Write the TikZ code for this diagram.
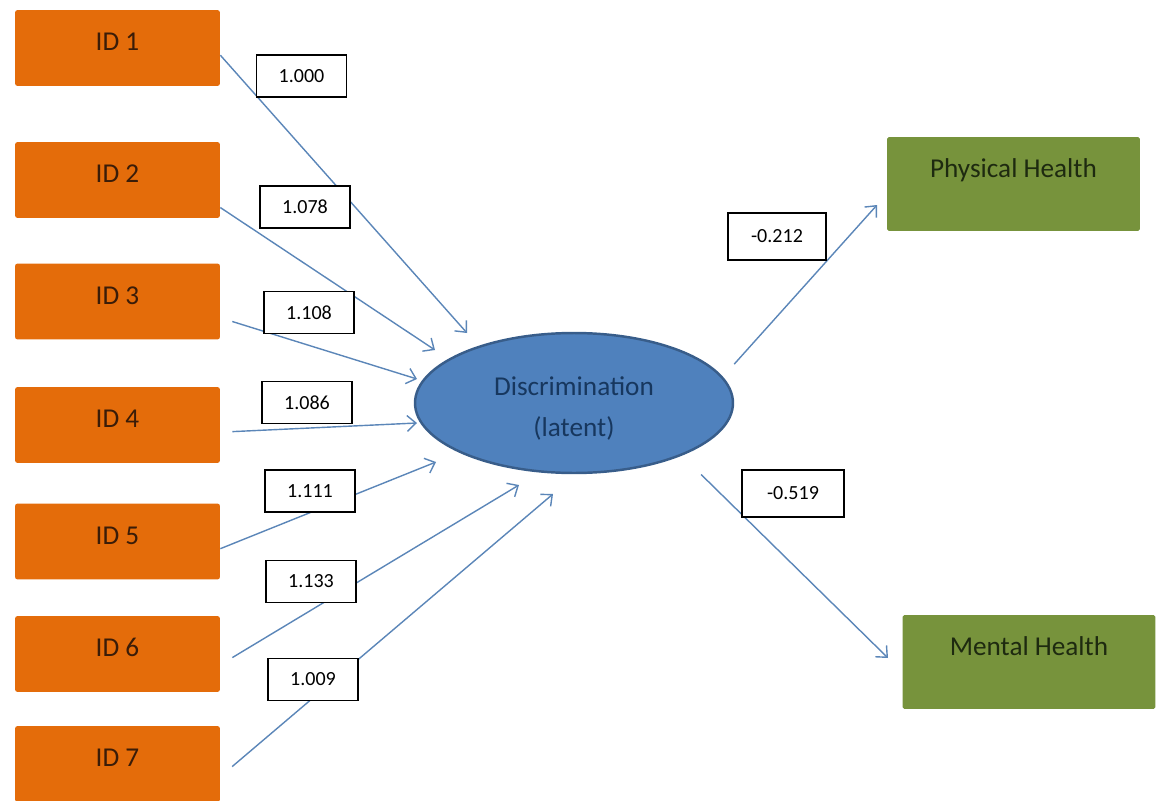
\documentclass[tikz,border=0pt]{standalone}
\usepackage{fontspec}
\setmainfont{Carlito}
\usepackage{xcolor}
\definecolor{semOrange}{HTML}{E46C0A}
\definecolor{semBrown}{HTML}{3A1C08}
\definecolor{semGreen}{HTML}{77933C}
\definecolor{semOlive}{HTML}{1E2A10}
\definecolor{semBlue}{HTML}{4F81BD}
\definecolor{semBlueDark}{HTML}{385D8A}
\definecolor{semNavy}{HTML}{17375E}
\definecolor{semLine}{HTML}{5B86B8}
\usetikzlibrary{shapes.geometric, arrows.meta}

\begin{document}
\begin{tikzpicture}[
    x=0.02cm, y=-0.02cm,
    >={Straight Barb[length=5pt,width=9pt]},
    indicator/.style={
        fill=semOrange, draw=none, rounded corners=1.5pt,
        minimum width=4.1cm, minimum height=1.52cm, inner sep=0pt,
        text height=0.4cm, text depth=0.29cm,
        font=\fontsize{15.5}{18}\selectfont, text=semBrown
    },
    outcome/.style={
        fill=semGreen, draw=none, rounded corners=1pt,
        minimum width=5.06cm, minimum height=1.88cm, inner sep=0pt,
        text height=0.4cm, text depth=0.68cm,
        font=\fontsize{15.5}{18}\selectfont, text=semOlive
    },
    latent/.style={
        ellipse, fill=semBlue, draw=semBlueDark, line width=1.4pt,
        minimum width=6.36cm, minimum height=2.8cm, inner sep=0pt,
        align=center, font=\fontsize{15.5}{23.8}\selectfont, text=semNavy,
        text height=38.5pt, text depth=0pt
    },
    % path coefficients
    loading/.style={
        draw=black, fill=white, line width=1pt, inner sep=0pt,
        minimum width=1.8cm, minimum height=0.84cm,
        font=\fontsize{11.4}{13}\selectfont
    },
    link/.style={->, draw=semLine, line width=0.8pt},
]
\useasboundingbox (0,0) rectangle (1160,801);

%% =================================================================
%% Indicators (left column)
%% =================================================================
\node[indicator] at (117.5, 48)  (id1) {ID 1};
\node[indicator] at (117.5, 180) (id2) {ID 2};
\node[indicator] at (117.5, 301.5) (id3) {ID 3};
\node[indicator] at (117.5, 425) (id4) {ID 4};
\node[indicator] at (117.5, 541.5) (id5) {ID 5};
\node[indicator] at (117.5, 654) (id6) {ID 6};
\node[indicator] at (117.5, 764) (id7) {ID 7};

%% =================================================================
%% Latent factor and outcomes
%% =================================================================
\node[latent] at (574, 403) (disc) {Discrimination\\(latent)};

\node[outcome] at (1013.5, 184) (phys) {Physical Health};
\node[outcome] at (1029, 662) (ment) {Mental Health};

%% =================================================================
%% Arrow tips (they stop short of the ellipse)
%% =================================================================
\coordinate (t1) at (467, 333);
\coordinate (t2) at (435, 350);
\coordinate (t3) at (417, 379);
\coordinate (t4) at (417, 423);
\coordinate (t5) at (436, 462);
\coordinate (t6) at (519, 485);
\coordinate (t7) at (553, 494);
\coordinate (tp) at (877, 205);
\coordinate (tm) at (888, 658);

%% =================================================================
%% Paths
%% =================================================================
\draw[link] (id1.-4) -- (t1);
\draw[link] (id2.-15) -- (t2);
\draw[link, shorten <=0.25cm] (id3.-9) -- (t3);
\draw[link, shorten <=0.24cm] (id4.-4) -- (t4);
\draw[link] (id5.-4) -- (t5);
\draw[link, shorten <=0.28cm] (id6.-6) -- (t6);
\draw[link, shorten <=0.31cm] (id7.-7) -- (t7);

\draw[link, shorten <=0.34cm] (disc.10) -- (tp);
\draw[link, shorten <=0.54cm] (disc.-26) -- (tm);

%% =================================================================
%% Coefficients (drawn last, over the paths)
%% =================================================================
\node[loading] at (301.5, 76)  (w1) {1.000};
\node[loading] at (305, 207)   (w2) {1.078};
\node[loading] at (309, 312.5) (w3) {1.108};
\node[loading] at (307, 402.5) (w4) {1.086};
\node[loading] at (310, 491)   (w5) {1.111};
\node[loading] at (311, 581.5) (w6) {1.133};
\node[loading] at (313, 679.5) (w7) {1.009};

\node[loading, minimum width=1.96cm, minimum height=0.94cm] at (777, 236.5) (wp) {-0.212};
\node[loading, minimum width=2.04cm, minimum height=0.94cm] at (793, 493.5) (wm) {-0.519};

\end{tikzpicture}
\end{document}
